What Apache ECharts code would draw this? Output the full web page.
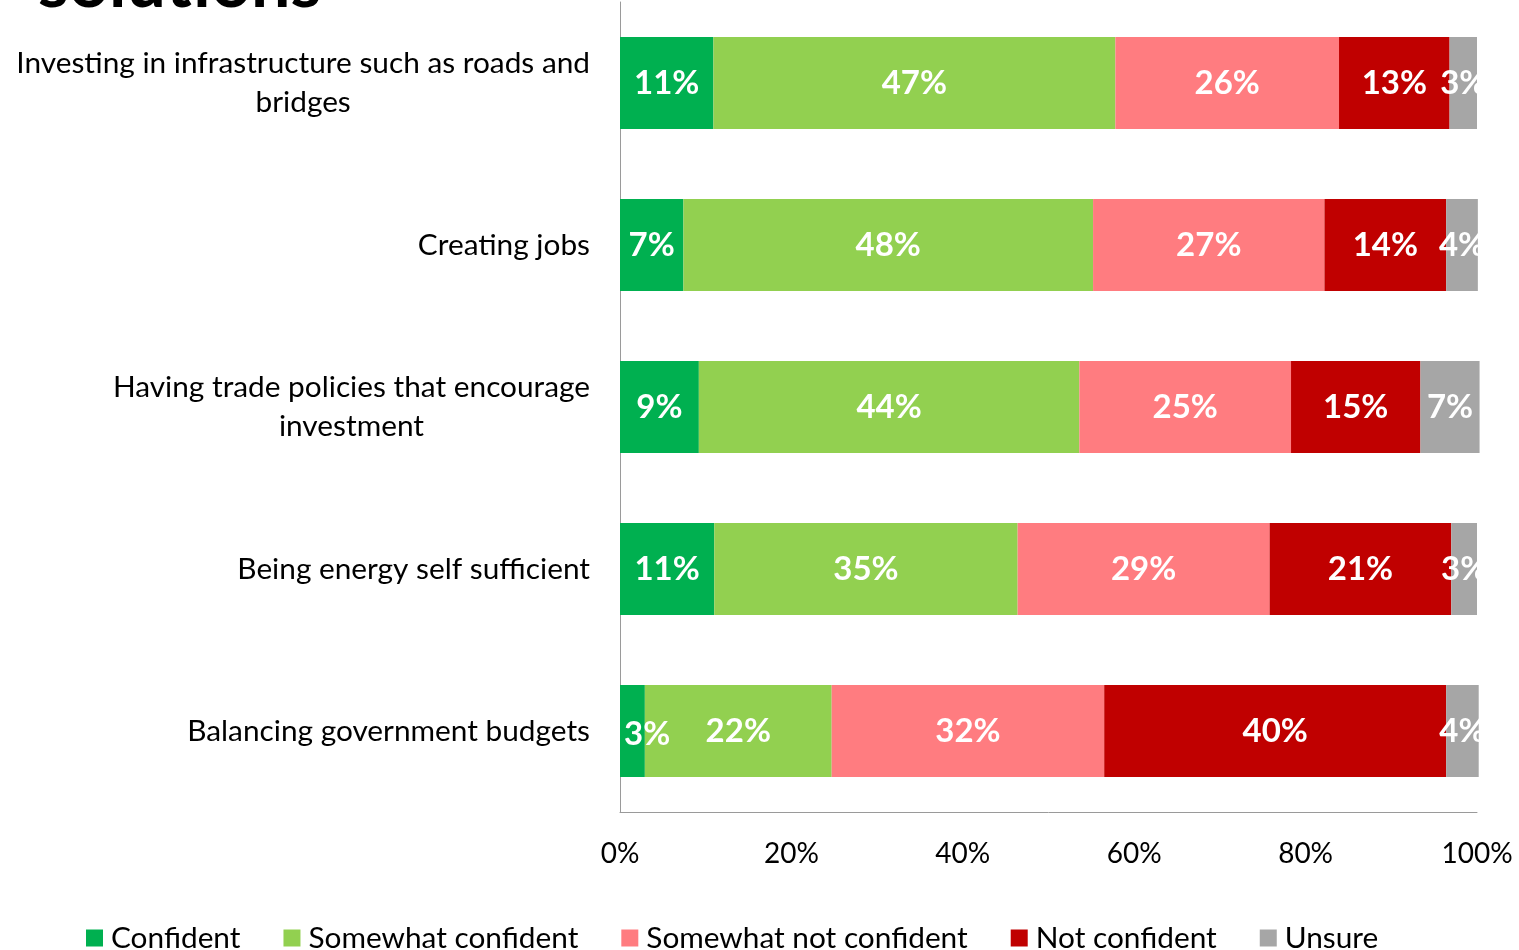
<!DOCTYPE html>
<html>
<head>
<meta charset="utf-8">
<script src="https://cdn.jsdelivr.net/npm/echarts@6/dist/echarts.min.js"></script>
<style>
html,body{margin:0;padding:0;background:#fff;}
#main{width:1519px;height:950px;}
</style>
</head>
<body>
<div id="main"></div>
<script>
const categories = [
  "Investing in infrastructure such as roads and\nbridges",
  "Creating jobs",
  "Having trade policies that encourage\ninvestment",
  "Being energy self sufficient",
  "Balancing government budgets"
];
const seriesNames = ["Confident", "Somewhat confident", "Somewhat not confident", "Not confident", "Unsure"];
const confident = [10.9, 7.4, 9.2, 11.0, 2.9];
const somewhatConfident = [46.9, 47.8, 44.4, 35.4, 21.8];
const somewhatNotConfident = [26.1, 27.0, 24.7, 29.4, 31.8];
const notConfident = [12.9, 14.2, 15.1, 21.2, 39.9];
const unsure = [3.2, 3.7, 6.9, 3.0, 3.8];
const xTicks = [0, 20, 40, 60, 80, 100];
const colors = ["#00B050", "#92D050", "#FF7C80", "#C00000", "#A6A6A6"];

const FONT = "Lato";
const GRID_LEFT = 620;
const allData = [confident, somewhatConfident, somewhatNotConfident, notConfident, unsure];

const chart = echarts.init(document.getElementById('main'), null, {renderer: 'canvas'});
chart.setOption({
  animation: false,
  backgroundColor: '#ffffff',
  title: {
    text: 'solutions',
    left: 38,
    top: -51,
    padding: 0,
    textStyle: {fontFamily: FONT, fontWeight: 'bold', fontSize: 70, color: '#000'}
  },
  legend: {
    data: seriesNames,
    left: 86,
    top: 923,
    padding: 0,
    itemGap: 43,
    itemWidth: 17,
    itemHeight: 17,
    icon: 'rect',
    textStyle: {fontFamily: FONT, fontSize: 29.8, color: '#000', padding: [0, 0, 0, 3]}
  },
  grid: {left: GRID_LEFT, right: 42, top: 2, bottom: 138, containLabel: false},
  xAxis: {
    type: 'value',
    min: xTicks[0],
    max: xTicks[xTicks.length - 1],
    interval: 20,
    axisLine: {show: true, lineStyle: {color: '#9a9a9a', width: 1}},
    axisTick: {show: false},
    splitLine: {show: false},
    axisLabel: {
      margin: 28,
      fontFamily: FONT, fontSize: 28, color: '#000',
      formatter: v => v + '%'
    }
  },
  yAxis: {
    type: 'category',
    inverse: true,
    data: categories,
    axisLine: {show: true, lineStyle: {color: '#9a9a9a', width: 1}},
    axisTick: {show: false},
    axisLabel: {
      margin: 30,
      align: 'right',
      formatter: v => v.split('\n').map(s => '{c|' + s + '}').join('\n'),
      rich: {
        c: {fontFamily: FONT, fontSize: 29.8, color: '#000', align: 'center', lineHeight: 39}
      }
    }
  },
  graphic: [{
    type: 'rect', z: 100,
    shape: {x: 1481, y: 0, width: 40, height: 800},
    style: {fill: '#ffffff'}
  }],
  series: allData.map((d, i) => ({
    name: seriesNames[i],
    type: 'bar',
    stack: 'total',
    barWidth: 92,
    clip: false,
    data: d,
    itemStyle: {color: colors[i]},
    labelLayout: function (p) {
      if (p.labelRect && p.labelRect.x < GRID_LEFT + 3) {
        return {x: GRID_LEFT + 4, y: p.labelRect.y - 2};
      }
      return {};
    },
    label: {
      show: true,
      position: 'inside',
      color: '#fff',
      fontFamily: FONT,
      fontWeight: 'bold',
      fontSize: 33,
      offset: [0, 5],
      formatter: p => Math.round(p.value) + '%'
    }
  }))
});
</script>
</body>
</html>
